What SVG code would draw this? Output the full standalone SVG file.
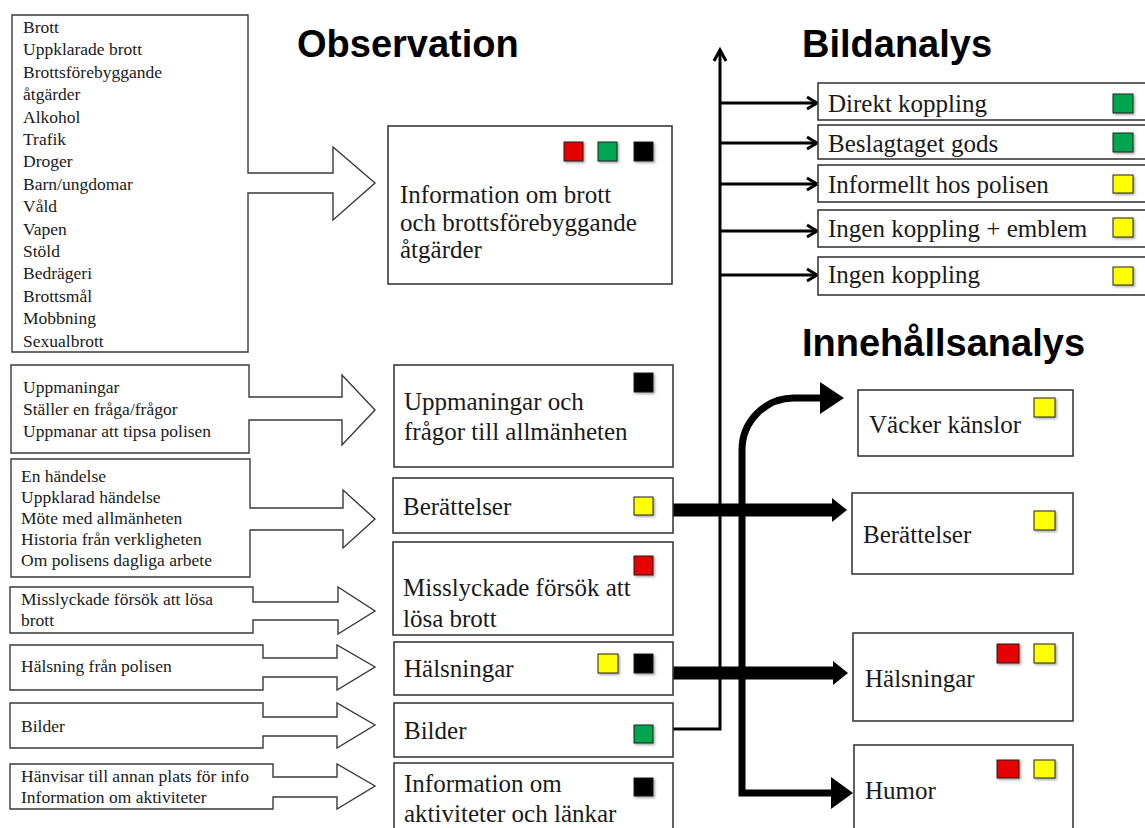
<svg xmlns="http://www.w3.org/2000/svg" width="1145" height="828" viewBox="0 0 1145 828">
<style>
.call{fill:#fff;stroke:#3a3a3a;stroke-width:1.4}
.box{fill:#fff;stroke:#3a3a3a;stroke-width:1.6}
.s{font-family:"Liberation Serif","Times New Roman",serif;font-size:17.5px;fill:#1a1a1a}
.m{font-family:"Liberation Serif","Times New Roman",serif;font-size:25px;fill:#1a1a1a}
.t{font-family:"Liberation Sans",Arial,sans-serif;font-size:38px;font-weight:bold;fill:#000}
.sq{stroke:#222;stroke-width:1}
.r{fill:#e60000}.g{fill:#00a64f}.y{fill:#ffff00}.k{fill:#000}
.thin{fill:none;stroke:#000;stroke-width:3}
.thick{fill:none;stroke:#000;stroke-width:7}
.fat{fill:none;stroke:#000;stroke-width:13}
</style>
<defs>
<filter id="sh" x="-30%" y="-30%" width="160%" height="160%"><feDropShadow dx="1.5" dy="1.5" stdDeviation="1" flood-color="#000" flood-opacity="0.35"/></filter>
</defs>

<!-- titles -->
<text class="t" x="297" y="57">Observation</text>
<text class="t" x="802" y="57">Bildanalys</text>
<text class="t" x="802" y="356">Innehållsanalys</text>

<!-- left callouts -->
<g id="src1">
<path class="call" d="M12,15 H248 V173 H333 V147 L375,183 L333,220 V193 H248 V352 H12 Z"/>
<text class="s" x="23" y="33">Brott</text>
<text class="s" x="23" y="55.4">Uppklarade brott</text>
<text class="s" x="23" y="77.8">Brottsförebyggande</text>
<text class="s" x="23" y="100.2">åtgärder</text>
<text class="s" x="23" y="122.6">Alkohol</text>
<text class="s" x="23" y="145">Trafik</text>
<text class="s" x="23" y="167.4">Droger</text>
<text class="s" x="23" y="189.8">Barn/ungdomar</text>
<text class="s" x="23" y="212.2">Våld</text>
<text class="s" x="23" y="234.6">Vapen</text>
<text class="s" x="23" y="257">Stöld</text>
<text class="s" x="23" y="279.4">Bedrägeri</text>
<text class="s" x="23" y="301.8">Brottsmål</text>
<text class="s" x="23" y="324.2">Mobbning</text>
<text class="s" x="23" y="346.6">Sexualbrott</text>
</g>
<g id="src2">
<path class="call" d="M11,365 H249 V397 H342 V375 L375,410 L342,445 V420 H249 V453 H11 Z"/>
<text class="s" x="23" y="393">Uppmaningar</text>
<text class="s" x="23" y="415">Ställer en fråga/frågor</text>
<text class="s" x="23" y="437">Uppmanar att tipsa polisen</text>
</g>
<g id="src3">
<path class="call" d="M11,459 H250 V508 H343 V490 L375,519 L343,548 V530 H250 V577 H11 Z"/>
<text class="s" x="21" y="482">En händelse</text>
<text class="s" x="21" y="503">Uppklarad händelse</text>
<text class="s" x="21" y="524">Möte med allmänheten</text>
<text class="s" x="21" y="545">Historia från verkligheten</text>
<text class="s" x="21" y="566">Om polisens dagliga arbete</text>
</g>
<g id="src4">
<path class="call" d="M10,587 H253 V602 H338 V587 L375,611 L338,634 V620 H253 V633 H10 Z"/>
<text class="s" x="21" y="605">Misslyckade försök att lösa</text>
<text class="s" x="21" y="626">brott</text>
</g>
<g id="src5">
<path class="call" d="M10,645 H263 V658 H337 V645 L375,667 L337,690 V677 H263 V690 H10 Z"/>
<text class="s" x="21" y="672">Hälsning från polisen</text>
</g>
<g id="src6">
<path class="call" d="M10,703 H263 V717 H337 V703 L375,725 L337,748 V736 H263 V748 H10 Z"/>
<text class="s" x="21" y="732">Bilder</text>
</g>
<g id="src7">
<path class="call" d="M10,764 H273 V777 H337 V764 L375,786 L337,809 V797 H273 V809 H10 Z"/>
<text class="s" x="21" y="782">Hänvisar till annan plats för info</text>
<text class="s" x="21" y="803">Information om aktiviteter</text>
</g>

<!-- connectors -->
<g id="connectors">
<path class="thin" d="M673,729 H720 V52"/>
<polyline class="thin" points="714,61 720,50 726,61"/>
<path class="thin" d="M720,103 H816 M720,143 H816 M720,184 H816 M720,231 H816 M720,275 H816"/>
<polyline class="thin" points="807,97 817,103 807,109"/>
<polyline class="thin" points="807,137 817,143 807,149"/>
<polyline class="thin" points="807,178 817,184 807,190"/>
<polyline class="thin" points="807,225 817,231 807,237"/>
<polyline class="thin" points="807,269 817,275 807,281"/>
<path class="fat" d="M673,510 H834"/>
<polygon points="832,498 847,510 832,522"/>
<path class="fat" d="M673,673 H835"/>
<polygon points="833,661 848,673 833,685"/>
<path class="thick" d="M822,398 H794 A52,52 0 0 0 742,450 V793 H834"/>
<polygon points="820,382 844,398 820,414"/>
<polygon points="831,777 853,793 831,809"/>
</g>

<!-- middle nodes -->
<g id="obs1">
<rect class="box" x="388" y="126" width="284" height="158"/>
<rect class="sq r" x="564" y="142" width="19" height="19" filter="url(#sh)"/>
<rect class="sq g" x="598" y="142" width="19" height="19" filter="url(#sh)"/>
<rect class="sq k" x="634" y="142" width="19" height="19" filter="url(#sh)"/>
<text class="m" x="400" y="203">Information om brott</text>
<text class="m" x="400" y="231">och brottsförebyggande</text>
<text class="m" x="400" y="258">åtgärder</text>
</g>
<g id="obs2">
<rect class="box" x="394" y="365" width="279" height="102"/>
<rect class="sq k" x="634" y="373" width="19" height="19" filter="url(#sh)"/>
<text class="m" x="404" y="410">Uppmaningar och</text>
<text class="m" x="404" y="440">frågor till allmänheten</text>
</g>
<g id="obs3">
<rect class="box" x="393" y="478" width="280" height="55"/>
<rect class="sq y" x="634" y="497" width="19" height="18" filter="url(#sh)"/>
<text class="m" x="403" y="515">Berättelser</text>
</g>
<g id="obs4">
<rect class="box" x="393" y="542" width="280" height="93"/>
<rect class="sq r" x="634" y="556" width="19" height="19" filter="url(#sh)"/>
<text class="m" x="403" y="596">Misslyckade försök att</text>
<text class="m" x="403" y="627">lösa brott</text>
</g>
<g id="obs5">
<rect class="box" x="394" y="642" width="279" height="53"/>
<rect class="sq y" x="598" y="654" width="20" height="19" filter="url(#sh)"/>
<rect class="sq k" x="634" y="654" width="19" height="19" filter="url(#sh)"/>
<text class="m" x="404" y="677">Hälsningar</text>
</g>
<g id="obs6">
<rect class="box" x="394" y="703" width="279" height="54"/>
<rect class="sq g" x="634" y="725" width="19" height="18" filter="url(#sh)"/>
<text class="m" x="404" y="739">Bilder</text>
</g>
<g id="obs7">
<rect class="box" x="394" y="763" width="279" height="80"/>
<rect class="sq k" x="634" y="778" width="19" height="18" filter="url(#sh)"/>
<text class="m" x="404" y="792">Information om</text>
<text class="m" x="404" y="822">aktiviteter och länkar</text>
</g>

<!-- Bildanalys nodes -->
<g id="bild1">
<rect class="box" x="818" y="83" width="340" height="37"/>
<rect class="sq g" x="1113" y="94" width="20" height="19" filter="url(#sh)"/>
<text class="m" x="828" y="112">Direkt koppling</text>
</g>
<g id="bild2">
<rect class="box" x="818" y="125" width="340" height="34"/>
<rect class="sq g" x="1113" y="133" width="20" height="19" filter="url(#sh)"/>
<text class="m" x="828" y="152">Beslagtaget gods</text>
</g>
<g id="bild3">
<rect class="box" x="818" y="165" width="340" height="37"/>
<rect class="sq y" x="1113" y="175" width="20" height="18" filter="url(#sh)"/>
<text class="m" x="828" y="193">Informellt hos polisen</text>
</g>
<g id="bild4">
<rect class="box" x="818" y="210" width="340" height="37"/>
<rect class="sq y" x="1113" y="218" width="20" height="19" filter="url(#sh)"/>
<text class="m" x="828" y="237">Ingen koppling + emblem</text>
</g>
<g id="bild5">
<rect class="box" x="818" y="257" width="340" height="38"/>
<rect class="sq y" x="1113" y="267" width="20" height="18" filter="url(#sh)"/>
<text class="m" x="828" y="283">Ingen koppling</text>
</g>

<!-- Innehållsanalys nodes -->
<g id="inn1">
<rect class="box" x="858" y="390" width="215" height="66"/>
<rect class="sq y" x="1034" y="398" width="21" height="19" filter="url(#sh)"/>
<text class="m" x="869" y="433">Väcker känslor</text>
</g>
<g id="inn2">
<rect class="box" x="852" y="493" width="221" height="81"/>
<rect class="sq y" x="1034" y="511" width="21" height="19" filter="url(#sh)"/>
<text class="m" x="863" y="543">Berättelser</text>
</g>
<g id="inn3">
<rect class="box" x="853" y="633" width="220" height="88"/>
<rect class="sq r" x="997" y="644" width="22" height="19" filter="url(#sh)"/>
<rect class="sq y" x="1034" y="644" width="21" height="19" filter="url(#sh)"/>
<text class="m" x="865" y="687">Hälsningar</text>
</g>
<g id="inn4">
<rect class="box" x="854" y="745" width="219" height="100"/>
<rect class="sq r" x="997" y="760" width="22" height="18" filter="url(#sh)"/>
<rect class="sq y" x="1034" y="760" width="21" height="18" filter="url(#sh)"/>
<text class="m" x="865" y="799">Humor</text>
</g>
</svg>
